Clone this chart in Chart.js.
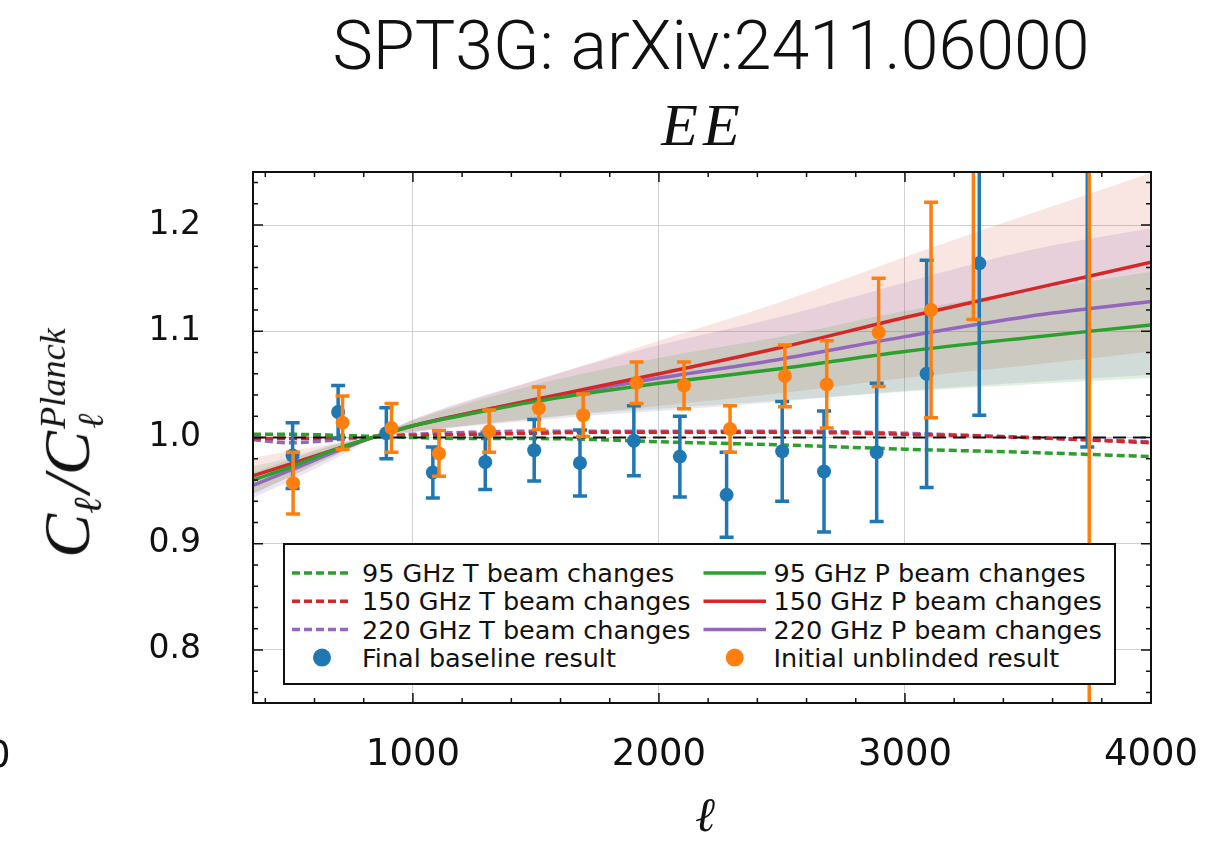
<!DOCTYPE html>
<html>
<head>
<meta charset="utf-8">
<script src="https://cdn.jsdelivr.net/npm/chart.js@4.4.0/dist/chart.umd.min.js"></script>
<style>
    html, body { margin: 0; padding: 0; background: #fff; }
    #wrap { position: relative; width: 1214px; height: 843px; overflow: hidden; background: #fff; }
    #c { position: absolute; left: 0; top: 0; }
    .txt { position: absolute; white-space: nowrap; line-height: 1; color: #111; }
    #title { left: 711px; top: 12px; transform: translateX(-50%); font-family: Roboto, 'Liberation Sans', sans-serif; font-weight: 300; font-size: 68px; }
    #panel { left: 703px; top: 95px; transform: translateX(-50%); font-family: 'Liberation Serif', 'DejaVu Serif', serif; font-style: italic; font-size: 60px; letter-spacing: 5px; }
    #xlab { left: 705px; top: 790px; transform: translateX(-50%); font-family: 'DejaVu Serif', serif; font-style: italic; font-size: 48px; }
    #ylab { left: 72px; top: 443px; transform: translate(-50%, -50%) rotate(-90deg); font-family: 'Liberation Serif', 'DejaVu Serif', serif; font-style: italic; font-size: 66px; }
    #ylab .stack { display: inline-block; vertical-align: -0.38em; font-size: 0.55em; line-height: 1.05; text-align: left; margin-left: 2px; }
    #ylab .stack span { display: block; }
    #ylab .sub { font-size: 0.6em; vertical-align: -0.3em; margin-right: 4px; }
    #edge0 { left: -13px; top: 736px; font-family: 'DejaVu Sans', sans-serif; font-size: 37px; }
    #legend { position: absolute; left: 283px; top: 543px; width: 829px; height: 138px; border: 2px solid #111; background: #fff; }
    #legend svg { position: absolute; left: 0; top: 0; }
    #legend .lt { position: absolute; font-family: 'DejaVu Sans', sans-serif; font-size: 25.5px; line-height: 28px; color: #111; white-space: nowrap; }
</style>
</head>
<body>
<div id="wrap">
    <canvas id="c" width="1214" height="843"></canvas>
    <div class="txt" id="title">SPT3G: arXiv:2411.06000</div>
    <div class="txt" id="panel">EE</div>
    <div class="txt" id="xlab">ℓ</div>
    <div class="txt" id="ylab">C<span class="sub">ℓ</span>/C<span class="stack"><span>Planck</span><span>ℓ</span></span></div>
    <div class="txt" id="edge0">0</div>
    <div id="legend"></div>
</div>
<script>
// EE: C_l / C_l^Planck と各ビーム変化モデル

// 軸の目盛
const xMajorTicks = [1000, 2000, 3000, 4000];
const xMinorTicks = [400, 600, 800, 1200, 1400, 1600, 1800, 2200, 2400, 2600, 2800, 3200, 3400, 3600, 3800];
const yMajorTicks = [0.8, 0.9, 1.0, 1.1, 1.2];
const yMinorTicks = [0.76, 0.78, 0.82, 0.84, 0.86, 0.88, 0.92, 0.94, 0.96, 0.98,
                     1.02, 1.04, 1.06, 1.08, 1.12, 1.14, 1.16, 1.18, 1.22, 1.24];

// モデル曲線の ell
const modelEll = [350, 500, 700, 850, 1000, 1250, 1500, 1750, 2000, 2500, 3000, 3500, 4000];

// T ビーム変化（破線）
const t95 = [1.003, 1.003, 1.002, 1.001, 1.000, 0.999, 0.999, 0.998, 0.996, 0.993, 0.989, 0.986, 0.982];
const t150 = [0.999, 0.999, 1.000, 1.001, 1.002, 1.003, 1.004, 1.005, 1.005, 1.005, 1.003, 1.000, 0.995];
const t220 = [0.998, 0.995, 0.998, 1.001, 1.003, 1.005, 1.006, 1.006, 1.006, 1.006, 1.004, 1.000, 0.996];

// P ビーム変化（実線）と帯
const p95 = [0.960, 0.972, 0.990, 1.001, 1.011, 1.023, 1.034, 1.043, 1.051, 1.065, 1.081, 1.094, 1.106];
const p95Hi = [0.973, 0.981, 0.995, 1.002, 1.016, 1.034, 1.050, 1.063, 1.075, 1.095, 1.119, 1.138, 1.156];
const p95Lo = [0.947, 0.963, 0.985, 1.000, 1.006, 1.012, 1.018, 1.023, 1.027, 1.035, 1.043, 1.050, 1.056];

const p150 = [0.964, 0.975, 0.990, 1.001, 1.011, 1.024, 1.036, 1.048, 1.060, 1.085, 1.113, 1.139, 1.165];
const p150Hi = [0.981, 0.987, 0.995, 1.002, 1.017, 1.036, 1.054, 1.072, 1.091, 1.128, 1.170, 1.210, 1.249];
const p150Lo = [0.947, 0.963, 0.985, 1.000, 1.005, 1.012, 1.018, 1.024, 1.030, 1.042, 1.056, 1.068, 1.081];

const p220 = [0.955, 0.969, 0.988, 1.001, 1.011, 1.024, 1.035, 1.046, 1.056, 1.074, 1.095, 1.114, 1.128];
const p220Hi = [0.967, 0.979, 0.994, 1.002, 1.017, 1.037, 1.054, 1.071, 1.087, 1.114, 1.146, 1.176, 1.197];
const p220Lo = [0.943, 0.959, 0.982, 1.000, 1.005, 1.011, 1.016, 1.021, 1.025, 1.034, 1.044, 1.052, 1.059];

// 基準線 (=1)
const refEll = [350, 4000];
const refVal = [1.0, 1.0];

// Final baseline result
const blueEll = [511, 696, 892, 1081, 1294, 1493, 1679, 1898, 2085, 2275, 2501, 2671, 2885, 3088, 3302, 3741];
const blueVal = [0.983, 1.024, 1.004, 0.967, 0.977, 0.988, 0.976, 0.997, 0.982, 0.946, 0.987, 0.968, 0.986, 1.060, 1.164, 1.400];
const blueErr = [0.031, 0.025, 0.024, 0.024, 0.026, 0.029, 0.031, 0.033, 0.038, 0.040, 0.047, 0.057, 0.065, 0.107, 0.143, 0.409];

// Initial unblinded result
const orangeEll = [513, 714, 913, 1106, 1310, 1512, 1692, 1909, 2102, 2289, 2512, 2682, 2893, 3106, 3278, 3749];
const orangeVal = [0.957, 1.014, 1.009, 0.985, 1.006, 1.0275, 1.021, 1.0515, 1.049, 1.008, 1.058, 1.050, 1.099, 1.120, 1.300, 1.600];
const orangeErr = [0.029, 0.025, 0.023, 0.0215, 0.020, 0.020, 0.020, 0.0195, 0.022, 0.022, 0.029, 0.041, 0.051, 0.1015, 0.189, 1.000];

const C_BLUE = '#1f77b4';
const C_ORANGE = '#ff7f0e';
const C_GREEN = '#2ca02c';
const C_RED = '#d62728';
const C_PURPLE = '#9467bd';

function pts(xs, ys) {
    return xs.map((x, i) => ({ x: x, y: ys[i] }));
}

// 凡例（2列）
const legendItems = [
    { col: 0, row: 0, label: '95 GHz T beam changes', color: C_GREEN, kind: 'dash' },
    { col: 0, row: 1, label: '150 GHz T beam changes', color: C_RED, kind: 'dash' },
    { col: 0, row: 2, label: '220 GHz T beam changes', color: C_PURPLE, kind: 'dash' },
    { col: 0, row: 3, label: 'Final baseline result', color: C_BLUE, kind: 'dot' },
    { col: 1, row: 0, label: '95 GHz P beam changes', color: C_GREEN, kind: 'line' },
    { col: 1, row: 1, label: '150 GHz P beam changes', color: C_RED, kind: 'line' },
    { col: 1, row: 2, label: '220 GHz P beam changes', color: C_PURPLE, kind: 'line' },
    { col: 1, row: 3, label: 'Initial unblinded result', color: C_ORANGE, kind: 'dot' }
];

function buildLegend() {
    const box = document.getElementById('legend');
    const rowY = [28, 56.3, 84.6, 112.6];
    const handleX = [[7, 67], [418.5, 481]];
    const textX = [77, 488.5];
    let svg = '<svg width="829" height="138">';
    legendItems.forEach(it => {
        const y = rowY[it.row];
        const [x0, x1] = handleX[it.col];
        if (it.kind === 'dot') {
            svg += `<circle cx="${(x0 + x1) / 2}" cy="${y}" r="9" fill="${it.color}"/>`;
        } else {
            const dash = it.kind === 'dash' ? ' stroke-dasharray="8 4"' : '';
            svg += `<line x1="${x0}" y1="${y}" x2="${x1}" y2="${y}" stroke="${it.color}" stroke-width="3.5"${dash}/>`;
        }
    });
    svg += '</svg>';
    box.innerHTML = svg;
    legendItems.forEach(it => {
        const s = document.createElement('span');
        s.className = 'lt';
        s.textContent = it.label;
        s.style.left = textX[it.col] + 'px';
        s.style.top = (rowY[it.row] - 14) + 'px';
        box.appendChild(s);
    });
}

// エラーバーと枠・内向き目盛
const beamPlugin = {
    id: 'beamPlugin',
    beforeDatasetDraw(chart, args) {
        const ds = chart.data.datasets[args.index];
        if (!ds.errors) return;
        const { ctx, chartArea, scales } = chart;
        ctx.save();
        ctx.beginPath();
        ctx.rect(chartArea.left, chartArea.top, chartArea.width, chartArea.height);
        ctx.clip();
        ctx.strokeStyle = ds.backgroundColor;
        ctx.lineWidth = 3.5;
        ds.data.forEach((p, i) => {
            const x = scales.x.getPixelForValue(p.x);
            const yTop = scales.y.getPixelForValue(p.y + ds.errors[i]);
            const yBot = scales.y.getPixelForValue(p.y - ds.errors[i]);
            ctx.beginPath();
            ctx.moveTo(x, yBot);
            ctx.lineTo(x, yTop);
            ctx.moveTo(x - 7, yTop);
            ctx.lineTo(x + 7, yTop);
            ctx.moveTo(x - 7, yBot);
            ctx.lineTo(x + 7, yBot);
            ctx.stroke();
        });
        ctx.restore();
    },
    afterDatasetsDraw(chart) {
        const { ctx, chartArea, scales } = chart;
        const { left, right, top, bottom } = chartArea;
        ctx.save();
        ctx.strokeStyle = '#111';
        ctx.lineWidth = 1.5;
        ctx.beginPath();
        const tickX = (v, len) => {
            const x = scales.x.getPixelForValue(v);
            ctx.moveTo(x, bottom); ctx.lineTo(x, bottom - len);
            ctx.moveTo(x, top); ctx.lineTo(x, top + len);
        };
        const tickY = (v, len) => {
            const y = scales.y.getPixelForValue(v);
            ctx.moveTo(left, y); ctx.lineTo(left + len, y);
            ctx.moveTo(right, y); ctx.lineTo(right - len, y);
        };
        xMajorTicks.forEach(v => tickX(v, 10));
        xMinorTicks.forEach(v => tickX(v, 5));
        yMajorTicks.forEach(v => tickY(v, 10));
        yMinorTicks.forEach(v => tickY(v, 5));
        ctx.stroke();
        ctx.lineWidth = 2;
        ctx.strokeRect(left, top, right - left, bottom - top);
        ctx.restore();
    }
};

// データセット
const datasets = [];
function addBand(hi, lo, fillColor) {
    const loIndex = datasets.length + 1;
    datasets.push({
        data: pts(modelEll, hi), borderWidth: 0, pointRadius: 0,
        fill: { target: loIndex }, backgroundColor: fillColor,
        cubicInterpolationMode: 'monotone', order: 10
    });
    datasets.push({
        data: pts(modelEll, lo), borderWidth: 0, pointRadius: 0,
        fill: false, cubicInterpolationMode: 'monotone', order: 10
    });
}
addBand(p95Hi, p95Lo, 'rgba(44, 160, 44, 0.15)');
addBand(p220Hi, p220Lo, 'rgba(148, 103, 189, 0.17)');
addBand(p150Hi, p150Lo, 'rgba(214, 70, 40, 0.14)');

function addCurve(values, color, dashed, order) {
    datasets.push({
        data: pts(modelEll, values), borderColor: color, borderWidth: 3.5,
        borderDash: dashed ? [8, 4] : [], pointRadius: 0, fill: false,
        cubicInterpolationMode: 'monotone', order: order
    });
}
addCurve(t95, C_GREEN, true, 6);
addCurve(t150, C_RED, true, 6);
addCurve(t220, C_PURPLE, true, 6);
addCurve(p95, C_GREEN, false, 5);
addCurve(p150, C_RED, false, 5);
addCurve(p220, C_PURPLE, false, 5);

datasets.push({
    data: pts(refEll, refVal), borderColor: '#111', borderWidth: 2,
    borderDash: [13, 7], pointRadius: 0, fill: false, order: 4
});

datasets.push({
    data: pts(blueEll, blueVal), errors: blueErr, showLine: false,
    backgroundColor: C_BLUE, borderColor: C_BLUE, pointRadius: 7, pointBorderWidth: 0, order: 2
});
datasets.push({
    data: pts(orangeEll, orangeVal), errors: orangeErr, showLine: false,
    backgroundColor: C_ORANGE, borderColor: C_ORANGE, pointRadius: 7, pointBorderWidth: 0, order: 1
});

const ctx = document.getElementById('c').getContext('2d');
const chart = new Chart(ctx, {
    type: 'line',
    data: { datasets: datasets },
    plugins: [beamPlugin],
    options: {
        responsive: false,
        animation: false,
        devicePixelRatio: 1,
        layout: { padding: { top: 172, right: 63, left: 0, bottom: 0 } },
        plugins: {
            legend: { display: false },
            tooltip: { enabled: false },
            title: { display: false }
        },
        scales: {
            x: {
                type: 'linear',
                min: 350,
                max: 4000,
                afterBuildTicks: s => { s.ticks = xMajorTicks.map(v => ({ value: v })); },
                afterFit: s => { s.height = 140; s.paddingLeft = 0; s.paddingRight = 0; },
                grid: { color: '#d0d0d0', lineWidth: 1, drawTicks: false },
                border: { display: false },
                ticks: {
                    padding: 30,
                    maxRotation: 0,
                    autoSkip: false,
                    color: '#111',
                    font: { family: 'DejaVu Sans', size: 37 },
                    callback: v => String(v)
                }
            },
            y: {
                type: 'linear',
                min: 0.75,
                max: 1.25,
                afterBuildTicks: s => { s.ticks = yMajorTicks.map(v => ({ value: v })); },
                afterFit: s => { s.width = 253; },
                grid: { color: '#d0d0d0', lineWidth: 1, drawTicks: false },
                border: { display: false },
                ticks: {
                    padding: 52,
                    color: '#111',
                    font: { family: 'DejaVu Sans', size: 33 },
                    callback: v => v.toFixed(1)
                }
            }
        }
    }
});

buildLegend();
</script>
</body>
</html>
